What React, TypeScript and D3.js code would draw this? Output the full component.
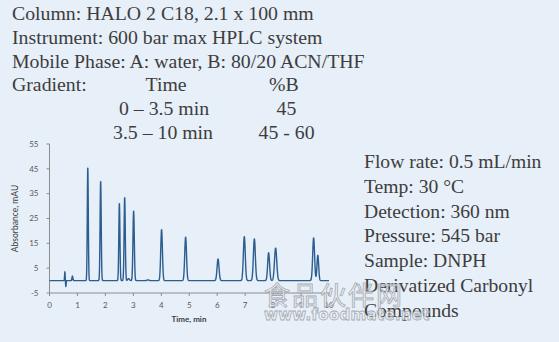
import React from "react";
import * as d3 from "d3";

// Peak table: retention time (min), height (mAU), width sigma (min)
const peakTimes = [0.55, 0.585, 0.82, 1.37, 1.83, 2.5, 2.69, 2.83, 3.01, 3.52, 4.01, 4.87, 6.03, 6.97, 7.33, 7.84, 8.09, 9.45, 9.6];
const peakHeights = [3.6, -2.4, 1.8, 45.5, 40, 31, 33.5, 0.8, 28, 0.3, 20.5, 17.5, 8.7, 17.7, 16.8, 11.2, 13.1, 17.2, 10.2];
const peakSigmas = [0.01, 0.01, 0.015, 0.018, 0.02, 0.02, 0.021, 0.03, 0.024, 0.03, 0.03, 0.032, 0.035, 0.034, 0.035, 0.034, 0.04, 0.034, 0.03];

const xTicks = [0, 1, 2, 3, 4, 5, 6, 7, 8, 9, 10];
const yTicks = [-5, 5, 15, 25, 35, 45, 55];

const leftLines = [
  "Column: HALO 2 C18, 2.1 x 100 mm",
  "Instrument: 600 bar max HPLC system",
  "Mobile Phase: A: water, B: 80/20 ACN/THF",
];
const gradientHeader = ["Gradient:", "Time", "%B"];
const gradientRows = [
  ["0 \u2013 3.5 min", "45"],
  ["3.5 \u2013 10 min", "45 - 60"],
];
const rightLines = [
  "Flow rate: 0.5 mL/min",
  "Temp: 30 \u00b0C",
  "Detection: 360 nm",
  "Pressure: 545 bar",
  "Sample: DNPH",
  "Derivatized Carbonyl",
  "Compounds",
];

const W = 559;
const H = 342;
const serif = "Liberation Serif";
const sans = "Lato";
const textColor = "#3d3d3d";

export default function App() {
  const x = d3.scaleLinear().domain([0, 10]).range([49.5, 329]);
  const y = d3.scaleLinear().domain([-5, 55]).range([293, 144]);

  const step = 0.004;
  const times = d3.range(0, 10 + step / 2, step);
  const signal = times.map((t) => {
    let v = 0;
    for (let i = 0; i < peakTimes.length; i++) {
      const d = (t - peakTimes[i]) / peakSigmas[i];
      v += peakHeights[i] * Math.exp(-0.5 * d * d);
    }
    return [t, v] as [number, number];
  });
  const line = d3
    .line<[number, number]>()
    .x((d) => x(d[0]))
    .y((d) => y(d[1]));

  const axisColor = "#8c8c8c";
  const tickColor = "#595959";
  const serifStyle = { fontFamily: serif };
  const sansStyle = { fontFamily: sans };
  const ly = (i: number) => 20 + i * 23.8;

  return (
    <svg
      width={W}
      height={H}
      style={{ position: "absolute", left: 0, top: 0, display: "block" }}
    >
      <rect x={0} y={0} width={W} height={H} fill="#e7eff9" />

      {/* header text */}
      <g style={serifStyle} fontSize={19.8} fill={textColor}>
        {leftLines.map((s, i) => (
          <text key={s} x={12} y={ly(i)}>
            {s}
          </text>
        ))}
        <text x={12} y={ly(3)}>{gradientHeader[0]}</text>
        <text x={145.5} y={ly(3)}>{gradientHeader[1]}</text>
        <text x={269} y={ly(3)}>{gradientHeader[2]}</text>
        {gradientRows.map((r, i) => (
          <g key={r[0]}>
            <text x={i === 0 ? 119 : 113} y={ly(4 + i)}>
              {r[0]}
            </text>
            <text x={i === 0 ? 276.5 : 258.5} y={ly(4 + i)}>
              {r[1]}
            </text>
          </g>
        ))}
      </g>

      <g style={serifStyle} fontSize={19.6} fill={textColor}>
        {rightLines.map((s, i) => (
          <text key={s} x={364} y={168.3 + i * 24.7}>
            {s}
          </text>
        ))}
      </g>

      {/* axes */}
      <line x1={x(0)} x2={x(0)} y1={y(55)} y2={y(-5)} stroke={axisColor} strokeWidth={1} />
      <line x1={x(0)} x2={x(10)} y1={y(-5)} y2={y(-5)} stroke={axisColor} strokeWidth={1} />
      {yTicks.map((t) => (
        <g key={"y" + t}>
          <line x1={x(0) - 3} x2={x(0)} y1={y(t)} y2={y(t)} stroke={axisColor} />
          <text
            x={x(0) - 11}
            y={y(t)}
            dy="0.35em"
            textAnchor="end"
            style={sansStyle}
            fontSize={8}
            fill={tickColor}
          >
            {t}
          </text>
        </g>
      ))}
      {xTicks.map((t) => (
        <g key={"x" + t}>
          <line x1={x(t)} x2={x(t)} y1={y(-5)} y2={y(-5) + 3} stroke={axisColor} />
          <text
            x={x(t)}
            y={y(-5) + 12}
            dy="0.35em"
            textAnchor="middle"
            style={sansStyle}
            fontSize={8}
            fill={tickColor}
          >
            {t}
          </text>
        </g>
      ))}
      <text
        transform={`translate(15, ${(y(55) + y(-5)) / 2}) rotate(-90)`}
        textAnchor="middle"
        dy="0.35em"
        style={sansStyle}
        fontSize={8.5}
        fill="#404040"
      >
        Absorbance, mAU
      </text>
      <text
        x={189}
        y={319}
        dy="0.35em"
        textAnchor="middle"
        style={sansStyle}
        fontSize={8}
        fontWeight={700}
        fill="#404040"
      >
        Time, min
      </text>

      <path d={line(signal) || ""} fill="none" stroke="#2b5d8f" strokeWidth={1.4} strokeLinejoin="round" />

      {/* watermark */}
      <g fill="#eef2f6" stroke="#9aa0a6" strokeWidth={0.8} opacity={0.85}>
        <text x={264} y={305} style={{ fontFamily: "Noto Sans CJK SC" }} fontSize={26} letterSpacing={2}>
          食品伙伴网
        </text>
        <text x={264} y={320} style={{ fontFamily: "DejaVu Sans" }} fontSize={15} fontWeight={700} letterSpacing={0.3}>
          www.foodmate.net
        </text>
      </g>
    </svg>
  );
}
